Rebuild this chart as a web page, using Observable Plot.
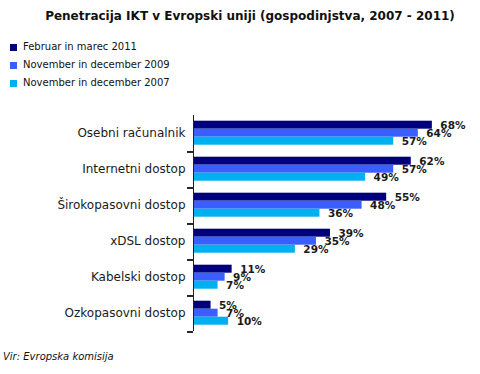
<!DOCTYPE html>
<html>
<head>
<meta charset="utf-8">
<script src="https://cdn.jsdelivr.net/npm/d3@7"></script>
<script src="https://cdn.jsdelivr.net/npm/@observablehq/plot@0.6"></script>
<style>
  html, body { margin: 0; padding: 0; background: #fff; }
  #wrap { position: relative; width: 480px; height: 374px; font-family: "DejaVu Sans", Verdana, sans-serif; color: #111; }
  #title { position: absolute; left: 0; width: 500px; top: 8px; text-align: center; font-weight: bold; font-size: 12px; line-height: 16px; }
  #legend { position: absolute; left: 10px; top: 38px; font-size: 10px; }
  .li { height: 18px; line-height: 14px; display: flex; align-items: center; }
  .sw { width: 7px; height: 7px; margin-right: 6px; display: inline-block; }
  #chart { position: absolute; left: 0; top: 100px; }
  #caption { position: absolute; left: 3px; top: 351px; font-size: 10px; font-style: italic; }
</style>
</head>
<body>
<div id="wrap">
  <div id="title"></div>
  <div id="legend"></div>
  <div id="chart"></div>
  <div id="caption"></div>
</div>
<script>
const titleText = "Penetracija IKT v Evropski uniji (gospodinjstva, 2007 - 2011)";
const captionText = "Vir: Evropska komisija";
const categories = ["Osebni računalnik", "Internetni dostop", "Širokopasovni dostop", "xDSL dostop", "Kabelski dostop", "Ozkopasovni dostop"];
const series = ["Februar in marec 2011", "November in december 2009", "November in december 2007"];
const colors = ["#00007c", "#3a5eff", "#00b0f0"];
const v2011 = [68, 62, 55, 39, 11, 5];
const v2009 = [64, 57, 48, 35, 9, 7];
const v2007 = [57, 49, 36, 29, 7, 10];

const valuesBySeries = [v2011, v2009, v2007];
const data = [];
categories.forEach((c, i) => {
  series.forEach((s, j) => data.push({category: c, series: s, value: valuesBySeries[j][i]}));
});

document.getElementById("title").textContent = titleText;
document.getElementById("caption").textContent = captionText;
const legend = document.getElementById("legend");
series.forEach((s, j) => {
  const row = document.createElement("div");
  row.className = "li";
  const sw = document.createElement("span");
  sw.className = "sw";
  sw.style.background = colors[j];
  row.appendChild(sw);
  row.appendChild(document.createTextNode(s));
  legend.appendChild(row);
});

const chart = Plot.plot({
  width: 480,
  height: 244,
  marginTop: 12.3,
  marginBottom: 10.3,
  marginLeft: 193,
  marginRight: 6,
  style: {fontFamily: "DejaVu Sans, Verdana, sans-serif", background: "transparent"},
  x: {domain: [0, 80], axis: null},
  y: {domain: series, axis: null, paddingInner: 0, paddingOuter: 0.75},
  fy: {domain: categories, padding: 0},
  color: {domain: series, range: colors},
  marks: [
    Plot.barX(data, {x: "value", y: "series", fy: "category", fill: "series"}),
    Plot.text(data, {
      x: "value", y: "series", fy: "category",
      text: d => d.value + "%",
      dx: 8, textAnchor: "start",
      fontWeight: "bold", fontSize: 10.5, fill: "#1a1a1a"
    }),
    Plot.ruleX([0], {stroke: "#222"}),
    Plot.axisFy({anchor: "left", tickSize: 0, tickPadding: 8, fontSize: 12, fill: "#1a1a1a", label: null}),
    Plot.axisFy(categories.slice(0, 5), {anchor: "left", tickSize: 6, dy: 18.45, tickFormat: () => "", stroke: "#222", label: null})
  ]
});
document.getElementById("chart").appendChild(chart);
</script>
</body>
</html>
